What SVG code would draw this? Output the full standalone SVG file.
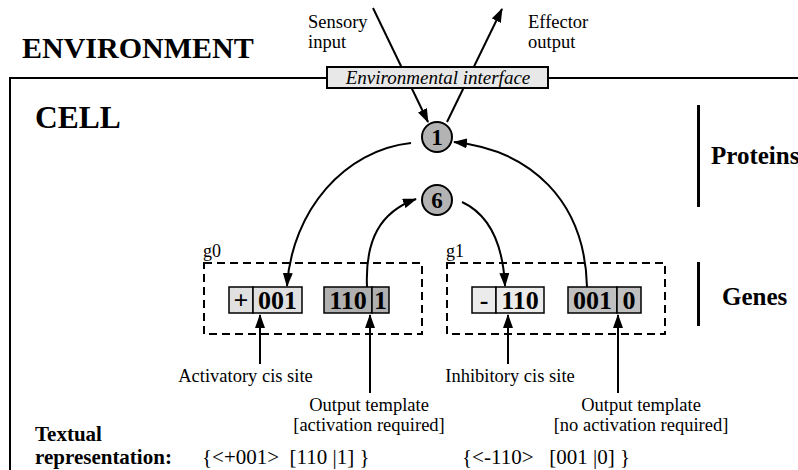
<svg xmlns="http://www.w3.org/2000/svg" width="798" height="470" viewBox="0 0 798 470">
<defs>
<marker id="ah" viewBox="0 0 14 10" refX="13" refY="5" markerWidth="14" markerHeight="10" markerUnits="userSpaceOnUse" orient="auto">
<path d="M0,0 L14,5 L0,10 z" fill="#000"/>
</marker>
</defs>
<style>
.conn{fill:none;stroke:#000;stroke-width:2}
.arr{marker-end:url(#ah)}
.dash{fill:none;stroke:#000;stroke-width:2;stroke-dasharray:8,5}
.prot circle{fill:#b3b3b3;stroke:#000;stroke-width:2}
.light{fill:#e0e0e0;stroke:#000;stroke-width:1.5}
.dark{fill:#b0b0b0;stroke:#000;stroke-width:1.5}
.light2{fill:#ebebeb;stroke:#000;stroke-width:1.5}
.dark2{fill:#c0c0c0;stroke:#000;stroke-width:1.5}
</style>
<rect width="798" height="470" fill="#fff"/>

<g id="environment">
<text x="22" y="58" font-size="30" font-weight="bold" font-family="Liberation Serif, serif">ENVIRONMENT</text>
</g>
<g id="cell">
<path d="M10,470 V78 H800" fill="none" stroke="#000" stroke-width="2"/>
<text x="35" y="128" font-size="31.5" font-weight="bold" font-family="Liberation Serif, serif">CELL</text>
</g>

<g id="connectors">
<path class="conn arr" d="M373,8 L428,122"/>
<path class="conn arr" d="M447,122 L502,9"/>
<path class="conn arr" d="M411,143 C345,150 292,210 287,286"/>
<path class="conn arr" d="M367,287 C365,240 380,212 416,199"/>
<path class="conn arr" d="M462,202 C490,215 503,245 505,286"/>
<path class="conn arr" d="M587,287 C585,200 530,150 454,142"/>
<path class="conn arr" d="M260,364 V315"/>
<path class="conn arr" d="M370,393 V315"/>
<path class="conn arr" d="M508,364 V315"/>
<path class="conn arr" d="M618,393 V315"/>
</g>

<g id="interface">
<rect x="327" y="67" width="221" height="21" fill="#e8e8e8" stroke="#000" stroke-width="2"/>
<text x="438" y="84" font-size="19" font-style="italic" text-anchor="middle" font-family="Liberation Serif, serif">Environmental interface</text>
</g>
<g id="sensory-label">
<text x="308" y="28" font-size="18.5" font-family="Liberation Serif, serif">Sensory</text>
<text x="308" y="48" font-size="18.5" font-family="Liberation Serif, serif">input</text>
</g>
<g id="effector-label">
<text x="528" y="28" font-size="18.5" font-family="Liberation Serif, serif">Effector</text>
<text x="528" y="48" font-size="18.5" font-family="Liberation Serif, serif">output</text>
</g>

<g id="protein1" class="prot">
<circle cx="437" cy="137" r="15"/>
<text x="437" y="145" font-size="23" font-weight="bold" text-anchor="middle" font-family="Liberation Serif, serif">1</text>
</g>
<g id="protein6" class="prot">
<circle cx="437" cy="200" r="15"/>
<text x="437" y="208" font-size="23" font-weight="bold" text-anchor="middle" font-family="Liberation Serif, serif">6</text>
</g>

<g id="proteins-label">
<rect x="697" y="105" width="3" height="102" fill="#000"/>
<text x="711" y="164" font-size="25" font-weight="bold" font-family="Liberation Serif, serif">Proteins</text>
</g>
<g id="genes-label">
<rect x="697" y="262" width="3" height="64" fill="#000"/>
<text x="722" y="305" font-size="25" font-weight="bold" font-family="Liberation Serif, serif">Genes</text>
</g>

<g id="g0">
<rect class="dash" x="204" y="263" width="218" height="71"/>
<text x="203" y="257" font-size="18" font-family="Liberation Serif, serif">g0</text>
<rect class="light" x="229" y="287" width="24" height="26"/>
<rect class="light" x="253" y="287" width="49" height="26"/>
<rect class="dark" x="324" y="287" width="48" height="26"/>
<rect class="dark" x="372" y="287" width="17" height="26"/>
<text x="241" y="309" font-size="26" font-weight="bold" text-anchor="middle" font-family="Liberation Serif, serif">+</text>
<text x="277.5" y="309" font-size="26" font-weight="bold" text-anchor="middle" font-family="Liberation Serif, serif">001</text>
<text x="348" y="309" font-size="26" font-weight="bold" text-anchor="middle" font-family="Liberation Serif, serif">110</text>
<text x="380.5" y="309" font-size="26" font-weight="bold" text-anchor="middle" font-family="Liberation Serif, serif">1</text>
</g>
<g id="g1">
<rect class="dash" x="447" y="263" width="218" height="71"/>
<text x="446" y="257" font-size="18" font-family="Liberation Serif, serif">g1</text>
<rect class="light2" x="472" y="287" width="24" height="26"/>
<rect class="light2" x="496" y="287" width="48" height="26"/>
<rect class="dark2" x="568" y="287" width="49" height="26"/>
<rect class="dark2" x="617" y="287" width="24" height="26"/>
<text x="484" y="309" font-size="26" font-weight="bold" text-anchor="middle" font-family="Liberation Serif, serif">-</text>
<text x="520" y="309" font-size="26" font-weight="bold" text-anchor="middle" font-family="Liberation Serif, serif">110</text>
<text x="592.5" y="309" font-size="26" font-weight="bold" text-anchor="middle" font-family="Liberation Serif, serif">001</text>
<text x="629" y="309" font-size="26" font-weight="bold" text-anchor="middle" font-family="Liberation Serif, serif">0</text>
</g>

<g id="labels">
<text x="245.5" y="382" font-size="18.5" text-anchor="middle" font-family="Liberation Serif, serif">Activatory cis site</text>
<text x="369" y="411" font-size="18.5" text-anchor="middle" font-family="Liberation Serif, serif">Output template</text>
<text x="369" y="431" font-size="18.5" text-anchor="middle" font-family="Liberation Serif, serif">[activation required]</text>
<text x="510" y="382" font-size="18.5" text-anchor="middle" font-family="Liberation Serif, serif">Inhibitory cis site</text>
<text x="641" y="411" font-size="18.5" text-anchor="middle" font-family="Liberation Serif, serif">Output template</text>
<text x="641" y="431" font-size="18.5" text-anchor="middle" font-family="Liberation Serif, serif">[no activation required]</text>
</g>

<g id="textual">
<text x="35" y="441" font-size="21" font-weight="bold" font-family="Liberation Serif, serif">Textual</text>
<text x="35" y="464" font-size="21" font-weight="bold" font-family="Liberation Serif, serif">representation:</text>
<text x="202" y="464" font-size="21" xml:space="preserve" font-family="Liberation Serif, serif">{&lt;+001&gt;  [110 |1] }</text>
<text x="462" y="464" font-size="21" xml:space="preserve" font-family="Liberation Serif, serif">{&lt;-110&gt;   [001 |0] }</text>
</g>
</svg>
